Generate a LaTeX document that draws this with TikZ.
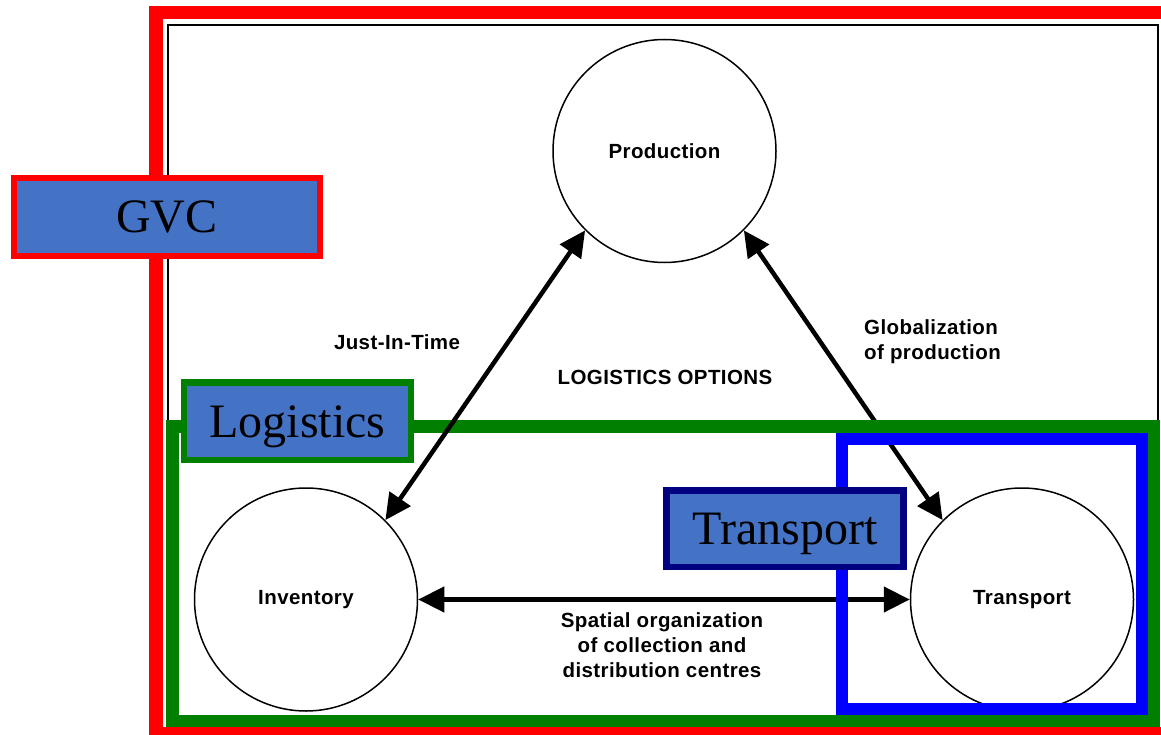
\documentclass[tikz,border=0pt]{standalone}
\usepackage{fontspec}
\setmainfont{Liberation Serif}
\newfontfamily\labfont{Liberation Sans}[LetterSpace=2]
\usetikzlibrary{arrows.meta}
\definecolor{gvcred}{HTML}{FF0000}
\definecolor{lgreen}{HTML}{007F00}
\definecolor{tblue}{HTML}{0000FF}
\definecolor{tnavy}{HTML}{000080}
\definecolor{boxfill}{HTML}{4472C4}
\tikzset{
  hub/.style={circle, draw=black, line width=1.5pt, fill=white, minimum size=223pt, inner sep=0pt,
    font=\labfont\bfseries\fontsize{20.5}{25}\selectfont},
  optlabel/.style={font=\labfont\bfseries\fontsize{20.5}{25}\selectfont, inner sep=0pt},
  tagbox/.style={rectangle, fill=boxfill, line width=6.5pt, inner sep=0pt,
    text height=32pt, text depth=0pt, font=\fontsize{48}{56}\selectfont},
  flow/.style={line width=4.5pt, {Triangle[length=26pt,width=25pt]}-{Triangle[length=26pt,width=25pt]}}
}
\begin{document}
\begin{tikzpicture}[x=1pt,y=-1pt]
\useasboundingbox (0,0) rectangle (1161,735);
\clip (0,0) rectangle (1161,735);
% outer red frame
\draw[gvcred, line width=13.5pt] (156,12.5) rectangle (1170,734);
% thin black frame
\draw[black, line width=1.5pt] (168,25) rectangle (1158,721);
% circles
\node[hub] (prod) at (664.5,151) {Production};
\node[hub] (inv) at (306,599.5) {Inventory};
\node[hub] (trans) at (1022,599.5) {Transport};
% arrows under frames
\draw[flow] (prod.315) -- (trans.135);
\draw[flow] (inv.0) -- (trans.180);
% green logistics frame
\draw[lgreen, line width=12.5pt] (172.5,426.5) rectangle (1154,721);
% blue transport frame
\draw[tblue, line width=12pt] (841.5,439) rectangle (1142,709);
% arrow over frames
\draw[flow] (prod.225) -- (inv.45);
% labels
\node[optlabel] (jit) at (397,342) {Just-In-Time};
\node[optlabel] (opts) at (665,377) {LOGISTICS OPTIONS};
\node[optlabel, anchor=west, align=left] (glob) at (864,342) {Globalization\\of production};
\node[optlabel, align=center] (spat) at (662,645) {Spatial organization\\of collection and\\distribution centres};
% tag boxes
\node[tagbox, draw=gvcred, minimum width=306pt, minimum height=78pt] (gvc) at (167,217) {GVC};
\node[tagbox, draw=lgreen, minimum width=227pt, minimum height=77.5pt] (logi) at (297.5,421) {Logistics};
\node[tagbox, draw=tnavy, minimum width=237pt, minimum height=76.5pt] (tlab) at (785,528.5) {Transport};
\end{tikzpicture}
\end{document}
